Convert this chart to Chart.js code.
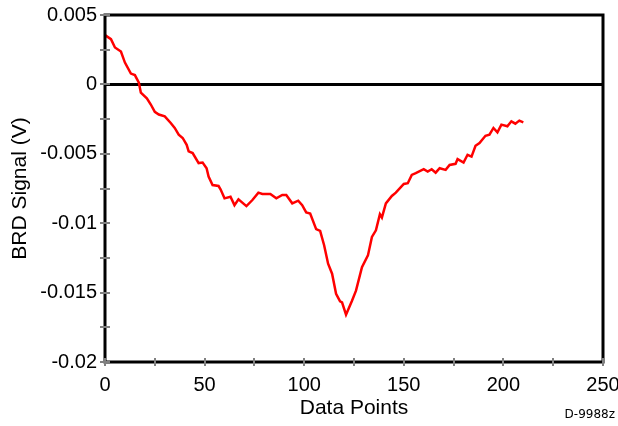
<!DOCTYPE html>
<html>
<head>
<meta charset="utf-8">
<script src="https://cdn.jsdelivr.net/npm/chart.js@4"></script>
<style>
  html, body { margin: 0; padding: 0; background: #fff; }
  #wrap { width: 618px; height: 426px; position: relative; }
</style>
</head>
<body>
<div id="wrap"><canvas id="brdChart"></canvas></div>
<script>
// values (signal in mV, converted to V below)
const pointIndex = [0, 3, 5, 8, 10, 13, 15, 17, 18, 21, 23, 25, 27, 30, 33, 35, 37,
  39, 41, 42, 44, 47, 49, 51, 52, 54, 57, 58, 60, 63, 65, 67, 71, 74, 77, 79,
  83, 86, 89, 91, 94, 97, 99, 101, 103, 106, 108, 110, 112, 114, 116, 118, 119, 121,
  124, 126, 129, 132, 134, 136, 138, 139, 141, 144, 146, 150, 152, 154, 156,
  160, 162, 164, 166, 168, 171, 173, 176, 177, 180, 182, 184, 186, 188, 191, 193,
  195, 197, 199, 202, 204, 206, 208, 210];
const signalMv = [3.55, 3.26, 2.66, 2.37, 1.57, 0.78, 0.67, 0.12, -0.60, -1.01, -1.45, -1.98, -2.17, -2.30, -2.78, -3.14, -3.62,
  -3.86, -4.35, -4.83, -4.95, -5.67, -5.63, -6.04, -6.64, -7.25, -7.32, -7.56, -8.21, -8.09, -8.70, -8.28, -8.77, -8.33, -7.80, -7.90,
  -7.90, -8.21, -7.97, -7.97, -8.57, -8.38, -8.70, -9.22, -9.30, -10.43, -10.56, -11.59, -12.92, -13.64, -15.09, -15.63, -15.70, -16.59,
  -15.58, -14.86, -13.17, -12.32, -10.99, -10.51, -9.35, -9.59, -8.57, -8.04, -7.80, -7.17, -7.12, -6.52, -6.40,
  -6.11, -6.28, -6.11, -6.36, -6.04, -6.16, -5.80, -5.72, -5.38, -5.63, -5.07, -5.20, -4.42, -4.22, -3.70, -3.62,
  -3.14, -3.46, -2.90, -3.02, -2.66, -2.83, -2.61, -2.73];

const xMajorLabels = [0, 50, 100, 150, 200, 250];
const yMajorLabels = [0.005, 0, -0.005, -0.01, -0.015, -0.02];
const figureCode = 'D-9988z';

const points = pointIndex.map((x, i) => ({ x: x, y: signalMv[i] / 1000 }));

const FONT = 'Liberation Sans, Arial, sans-serif';

function isMajor(list, v) {
  return list.some(m => Math.abs(m - v) < 1e-9);
}

// gray tick marks that cross the axis lines, plus frame and code label
const axisDecor = {
  id: 'axisDecor',
  afterDraw(chart) {
    const ctx = chart.ctx;
    const area = chart.chartArea;
    const xs = chart.scales.x;
    const ys = chart.scales.y;
    ctx.save();
    // frame (top and right) + axes
    ctx.strokeStyle = '#000';
    ctx.lineWidth = 3;
    ctx.beginPath();
    ctx.moveTo(area.left, area.top);
    ctx.lineTo(area.right, area.top);
    ctx.lineTo(area.right, area.bottom);
    ctx.lineTo(area.left, area.bottom);
    ctx.closePath();
    ctx.stroke();
    // ticks
    ctx.strokeStyle = '#808080';
    ctx.lineWidth = 2;
    xs.ticks.forEach(t => {
      const px = Math.round(xs.getPixelForValue(t.value));
      ctx.beginPath();
      ctx.moveTo(px, area.bottom - 4);
      ctx.lineTo(px, area.bottom + 4);
      ctx.stroke();
    });
    ys.ticks.forEach(t => {
      const py = Math.round(ys.getPixelForValue(t.value));
      ctx.beginPath();
      ctx.moveTo(area.left - 5, py);
      ctx.lineTo(area.left + 5, py);
      ctx.stroke();
    });
    // figure code
    ctx.fillStyle = '#000';
    ctx.font = '12px "DejaVu Sans", sans-serif';
    ctx.textAlign = 'right';
    ctx.textBaseline = 'alphabetic';
    ctx.fillText(figureCode, 615, 418);
    ctx.restore();
  }
};

new Chart(document.getElementById('brdChart'), {
  type: 'line',
  data: {
    datasets: [{
      data: points,
      borderColor: '#ff0000',
      borderWidth: 2.5,
      pointRadius: 0,
      tension: 0,
      fill: false
    }]
  },
  options: {
    responsive: true,
    maintainAspectRatio: false,
    animation: false,
    events: [],
    layout: { padding: { top: 15, right: 15, left: 0, bottom: 0 } },
    plugins: {
      legend: { display: false },
      tooltip: { enabled: false }
    },
    scales: {
      x: {
        type: 'linear',
        min: 0,
        max: 250,
        border: { display: false },
        grid: { display: false, drawTicks: false },
        ticks: {
          stepSize: 25,
          autoSkip: false,
          maxRotation: 0,
          padding: 11,
          color: '#000',
          font: { family: FONT, size: 20 },
          callback: v => isMajor(xMajorLabels, v) ? String(v) : ''
        },
        title: {
          display: true,
          text: 'Data Points',
          color: '#000',
          font: { family: FONT, size: 21 },
          padding: { top: 5, bottom: 5 }
        },
        afterFit: scale => {
          scale.height = 426 - 362;
          scale.paddingLeft = 0;
          scale.paddingRight = 0;
        }
      },
      y: {
        type: 'linear',
        min: -0.02,
        max: 0.005,
        border: { display: false },
        grid: {
          drawTicks: false,
          lineWidth: 3,
          color: c => (c.tick && c.tick.value === 0) ? '#000' : 'rgba(0,0,0,0)'
        },
        ticks: {
          stepSize: 0.0025,
          autoSkip: false,
          padding: 8,
          color: '#000',
          font: { family: FONT, size: 20 },
          callback: v => isMajor(yMajorLabels, v) ? String(Math.round(v * 1000) / 1000) : ''
        },
        title: {
          display: true,
          text: 'BRD Signal (V)',
          color: '#000',
          font: { family: FONT, size: 21 },
          padding: { top: 8, bottom: 8 }
        },
        afterFit: scale => {
          scale.width = 105;
          scale.paddingTop = 0;
          scale.paddingBottom = 0;
        }
      }
    }
  },
  plugins: [axisDecor]
});
</script>
</body>
</html>
